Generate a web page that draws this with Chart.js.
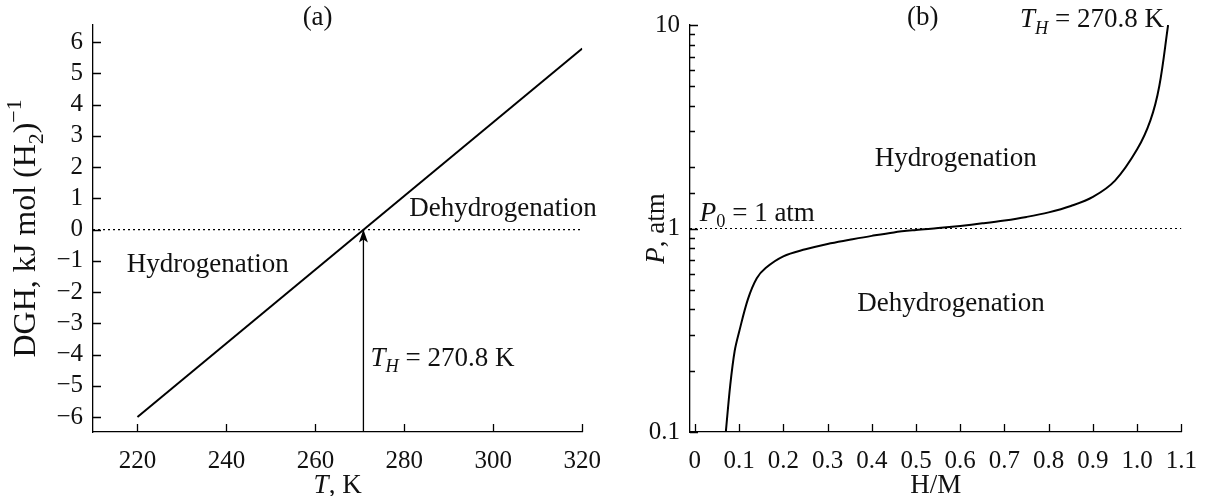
<!DOCTYPE html>
<html>
<head>
<meta charset="utf-8">
<script src="https://cdn.jsdelivr.net/npm/chart.js@4.4.1/dist/chart.umd.min.js"></script>
<style>
    html, body { margin: 0; padding: 0; background: #fff; }
    #wrap { position: relative; width: 1211px; height: 496px; }
    .box { position: absolute; top: 0; height: 496px; }
    #box-a { left: 0; width: 615px; }
    #box-b { left: 600px; width: 611px; }
</style>
</head>
<body>
<div id="wrap">
    <div class="box" id="box-a"><canvas id="chart-a"></canvas></div>
    <div class="box" id="box-b"><canvas id="chart-b"></canvas></div>
</div>
<script>
// (a) DGH against temperature
const tempK = [220, 320];
const dghValues = [-6.0, 5.8];
const tempRange = [210, 320];
const dghRange = [-6.48, 6.55];
const tempTicks = [220, 240, 260, 280, 300, 320];
const dghTicks = [-6, -5, -4, -3, -2, -1, 0, 1, 2, 3, 4, 5, 6];
const T_H = 270.8;

// (b) isotherm at T_H
const hmRatio = [0.07, 0.08, 0.09, 0.10, 0.12, 0.14, 0.16, 0.20, 0.25, 0.30, 0.35, 0.40, 0.45, 0.50,
    0.55, 0.60, 0.65, 0.70, 0.75, 0.80, 0.85, 0.90, 0.95, 1.00, 1.03, 1.05, 1.07];
const pressure = [0.1, 0.17, 0.25, 0.31, 0.45, 0.57, 0.64, 0.73, 0.79, 0.84, 0.88, 0.92, 0.957, 0.983,
    1.005, 1.03, 1.06, 1.095, 1.14, 1.20, 1.29, 1.43, 1.72, 2.45, 3.4, 5.0, 10];
const hmRange = [-0.011, 1.1];
const pRange = [0.1, 10];
const hmTicks = [0, 0.1, 0.2, 0.3, 0.4, 0.5, 0.6, 0.7, 0.8, 0.9, 1.0, 1.1];
const hmTickLabels = ['0', '0.1', '0.2', '0.3', '0.4', '0.5', '0.6', '0.7', '0.8', '0.9', '1.0', '1.1'];
const pTickLabels = ['0.1', '1', '10'];
const P0 = 1;

const SERIF = '"Liberation Serif", "DejaVu Serif", serif';
const FS = 27;
Chart.defaults.font.family = SERIF;
Chart.defaults.font.size = 25;
Chart.defaults.color = '#111';

function fontOf(size, italic) {
    return (italic ? 'italic ' : '') + size + 'px ' + SERIF;
}

function drawRich(ctx, runs, x, y, align, size) {
    size = size || FS;
    const sz = r => (r.sub || r.sup) ? size * 0.68 : size;
    let width = 0;
    runs.forEach(r => {
        ctx.font = fontOf(sz(r), r.it);
        width += ctx.measureText(r.t).width;
    });
    let cx = align === 'center' ? x - width / 2 : x;
    const base = y + size * 0.34;
    ctx.textAlign = 'left';
    ctx.textBaseline = 'alphabetic';
    ctx.fillStyle = '#111';
    runs.forEach(r => {
        ctx.font = fontOf(sz(r), r.it);
        let dy = 0;
        if (r.sub) dy = size * 0.24;
        if (r.sup) dy = -size * 0.42;
        ctx.fillText(r.t, cx, base + dy);
        cx += ctx.measureText(r.t).width;
    });
}

// tick marks drawn on the inner side of the axes
const innerTicks = {
    id: 'innerTicks',
    afterDraw(chart) {
        const ctx = chart.ctx;
        const area = chart.chartArea;
        ctx.save();
        ctx.strokeStyle = '#000';
        ctx.lineWidth = 1.3;
        ctx.beginPath();
        const xs = chart.scales.x;
        xs.ticks.forEach(t => {
            const px = Math.round(xs.getPixelForValue(t.value)) + 0.5;
            ctx.moveTo(px, area.bottom);
            ctx.lineTo(px, area.bottom - 8);
        });
        const ys = chart.scales.y;
        ys.ticks.forEach(t => {
            const py = Math.round(ys.getPixelForValue(t.value)) + 0.5;
            let len = 8;
            if (ys.type === 'logarithmic') {
                const l = Math.log10(t.value);
                len = Math.abs(l - Math.round(l)) < 1e-6 ? 8 : 5;
            }
            ctx.moveTo(area.left, py);
            ctx.lineTo(area.left + len, py);
        });
        ctx.stroke();
        ctx.restore();
    }
};

const notesA = {
    id: 'notesA',
    afterDraw(chart) {
        const ctx = chart.ctx;
        const xs = chart.scales.x, ys = chart.scales.y, area = chart.chartArea;
        ctx.save();
        // arrow head at the crossing
        const ax = xs.getPixelForValue(T_H), ay = ys.getPixelForValue(0);
        ctx.fillStyle = '#000';
        ctx.beginPath();
        ctx.moveTo(ax, ay);
        ctx.lineTo(ax - 4.5, ay + 13);
        ctx.lineTo(ax, ay + 10);
        ctx.lineTo(ax + 4.5, ay + 13);
        ctx.closePath();
        ctx.fill();

        drawRich(ctx, [{t: '(a)'}], xs.getPixelForValue(260.5), 16, 'center');
        drawRich(ctx, [{t: 'Dehydrogenation'}], xs.getPixelForValue(281.1), ys.getPixelForValue(0.72), 'left');
        drawRich(ctx, [{t: 'Hydrogenation'}], xs.getPixelForValue(217.6), ys.getPixelForValue(-1.05), 'left');
        drawRich(ctx, [{t: 'T', it: true}, {t: 'H', it: true, sub: true}, {t: ' = 270.8 K'}],
            xs.getPixelForValue(272.4), ys.getPixelForValue(-4.06), 'left');
        drawRich(ctx, [{t: 'T', it: true}, {t: ', K'}], (area.left + area.right) / 2, 484, 'center');

        ctx.translate(24, (area.top + area.bottom) / 2);
        ctx.rotate(-Math.PI / 2);
        drawRich(ctx, [{t: 'DGH, kJ mol (H'}, {t: '2', sub: true}, {t: ')'}, {t: '\u22121', sup: true}], 0, 0, 'center', 32);
        ctx.restore();
    }
};

const notesB = {
    id: 'notesB',
    afterDraw(chart) {
        const ctx = chart.ctx;
        const xs = chart.scales.x, ys = chart.scales.y, area = chart.chartArea;
        ctx.save();
        drawRich(ctx, [{t: '(b)'}], xs.getPixelForValue(0.515), 16, 'center');
        drawRich(ctx, [{t: 'T', it: true}, {t: 'H', it: true, sub: true}, {t: ' = 270.8 K'}],
            xs.getPixelForValue(0.735), 18, 'left');
        drawRich(ctx, [{t: 'Hydrogenation'}], xs.getPixelForValue(0.407), ys.getPixelForValue(2.24), 'left');
        drawRich(ctx, [{t: 'Dehydrogenation'}], xs.getPixelForValue(0.367), ys.getPixelForValue(0.437), 'left');
        drawRich(ctx, [{t: 'P', it: true}, {t: '0', sub: true}, {t: ' = 1 atm'}],
            xs.getPixelForValue(0.011), ys.getPixelForValue(1.21), 'left');
        drawRich(ctx, [{t: 'H/M'}], (area.left + area.right) / 2, 484, 'center');

        ctx.translate(55, (area.top + area.bottom) / 2);
        ctx.rotate(-Math.PI / 2);
        drawRich(ctx, [{t: 'P', it: true}, {t: ', atm'}], 0, 0, 'center');
        ctx.restore();
    }
};

function fmtMinus(v) {
    return v < 0 ? '\u2212' + Math.abs(v) : String(v);
}

const axisBorder = {display: true, color: '#000', width: 1.3};
const noGrid = {display: false, drawTicks: false, tickLength: 0};

new Chart(document.getElementById('chart-a'), {
    type: 'line',
    data: {
        datasets: [{
            data: tempK.map((t, i) => ({x: t, y: dghValues[i]})),
            borderColor: '#000',
            borderWidth: 2,
            pointRadius: 0
        }, {
            data: tempRange.map(t => ({x: t, y: 0})),
            borderColor: '#000',
            borderWidth: 1.2,
            borderDash: [2, 3],
            pointRadius: 0
        }, {
            data: [{x: T_H, y: dghRange[0]}, {x: T_H, y: 0}],
            borderColor: '#000',
            borderWidth: 1.3,
            pointRadius: 0
        }]
    },
    options: {
        responsive: true,
        maintainAspectRatio: false,
        animation: false,
        layout: {padding: {top: 24, right: 16, left: 0, bottom: 0}},
        plugins: {legend: {display: false}, tooltip: {enabled: false}},
        scales: {
            x: {
                type: 'linear',
                min: tempRange[0],
                max: tempRange[1],
                grid: noGrid,
                border: axisBorder,
                afterBuildTicks: s => { s.ticks = tempTicks.map(v => ({value: v})); },
                afterFit: s => { s.height = 64; },
                ticks: {padding: 14, maxRotation: 0, autoSkip: false, callback: v => String(v)}
            },
            y: {
                type: 'linear',
                min: dghRange[0],
                max: dghRange[1],
                grid: noGrid,
                border: axisBorder,
                afterBuildTicks: s => { s.ticks = dghTicks.map(v => ({value: v})); },
                afterFit: s => { s.width = 93; },
                ticks: {padding: 10, autoSkip: false, callback: v => fmtMinus(v)}
            }
        }
    },
    plugins: [innerTicks, notesA]
});

new Chart(document.getElementById('chart-b'), {
    type: 'line',
    data: {
        datasets: [{
            data: hmRatio.map((h, i) => ({x: h, y: pressure[i]})),
            borderColor: '#000',
            borderWidth: 2,
            pointRadius: 0,
            tension: 0.35
        }, {
            data: hmRange.map(h => ({x: h, y: P0})),
            borderColor: '#000',
            borderWidth: 1.2,
            borderDash: [2, 3],
            pointRadius: 0
        }]
    },
    options: {
        responsive: true,
        maintainAspectRatio: false,
        animation: false,
        layout: {padding: {top: 24, right: 15, left: 0, bottom: 0}},
        plugins: {legend: {display: false}, tooltip: {enabled: false}},
        scales: {
            x: {
                type: 'linear',
                min: hmRange[0],
                max: hmRange[1],
                grid: noGrid,
                border: axisBorder,
                afterBuildTicks: s => { s.ticks = hmTicks.map(v => ({value: v})); },
                afterFit: s => { s.height = 64; },
                ticks: {
                    padding: 14, maxRotation: 0, autoSkip: false,
                    callback: (v, i) => hmTickLabels[i]
                }
            },
            y: {
                type: 'logarithmic',
                min: pRange[0],
                max: pRange[1],
                grid: noGrid,
                border: axisBorder,
                afterFit: s => { s.width = 90; },
                ticks: {
                    padding: 10, autoSkip: false,
                    callback: v => {
                        const l = Math.log10(v);
                        return Math.abs(l - Math.round(l)) < 1e-6 ? pTickLabels[Math.round(l) + 1] : '';
                    }
                }
            }
        }
    },
    plugins: [innerTicks, notesB]
});
</script>
</body>
</html>
